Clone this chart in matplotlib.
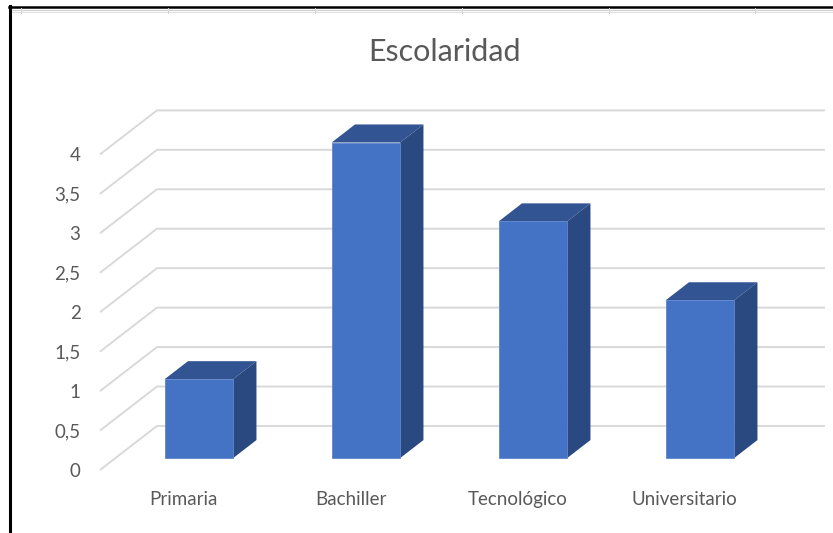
import numpy as np
import matplotlib
matplotlib.use('Agg')
import matplotlib.pyplot as plt
from matplotlib.lines import Line2D

categories = ['Primaria', 'Bachiller', 'Tecnológico', 'Universitario']
values = [1, 4, 3, 2]
yticks = [0, 0.5, 1, 1.5, 2, 2.5, 3, 3.5, 4]
ytick_labels = ['0', '0,5', '1', '1,5', '2', '2,5', '3', '3,5', '4']

# 3d look: depth offset of back wall (x in category units, y in value units)
DX, DY = 0.341, 0.558
D0, D1 = 0.27, 0.68   # bar front / back depth
BAR_W = 0.41

front_col = '#4472C4'
top_col = '#325493'
side_col = '#2A4980'
grid_col = '#d9d9d9'
text_col = '#595959'

plt.rcParams['font.family'] = ['Lato', 'DejaVu Sans']

W, H = 833, 533
fig = plt.figure(figsize=(W / 100, H / 100), dpi=100)

ax = fig.add_axes([100 / W, (H - 470) / H, 668 / W, 315.6 / H])
ax.set_xlim(-0.5, len(categories) - 0.5)
ax.set_ylim(0, 4)
for s in ax.spines.values():
    s.set_visible(False)

# gridlines: front-left diagonal + back wall line
x0, x1 = -0.5, len(categories) - 0.5
for v in yticks:
    ax.plot([x0, x0 + DX, x1 + DX], [v, v + DY, v + DY], color=grid_col,
            lw=1.4, zorder=1, clip_on=False, solid_capstyle='butt')

xs = np.arange(len(categories))
ax.bar(xs + D0 * DX, values, width=BAR_W, bottom=D0 * DY, color=front_col,
       edgecolor='#5f86cc', linewidth=0.6, zorder=4, clip_on=False)

ddx, ddy = (D1 - D0) * DX, (D1 - D0) * DY
for x, v in zip(xs, values):
    left = x + D0 * DX - BAR_W / 2
    right = left + BAR_W
    bot = D0 * DY
    top = bot + v
    # top face
    ax.fill([left, right, right + ddx, left + ddx], [top, top, top + ddy, top + ddy],
            color=top_col, zorder=3, clip_on=False, lw=0)
    # side face
    ax.fill([right, right + ddx, right + ddx, right], [bot, bot + ddy, top + ddy, top],
            color=side_col, zorder=3, clip_on=False, lw=0)

ax.set_yticks(yticks)
ax.set_yticklabels(ytick_labels)
ax.set_xticks(xs)
ax.set_xticklabels(categories)
ax.tick_params(axis='y', length=0, pad=14, labelsize=13.5, labelcolor=text_col)
ax.tick_params(axis='x', length=0, pad=15, labelsize=13.5, labelcolor=text_col)

fig.text(445 / W, 1 - 52 / H, 'Escolaridad', ha='center', va='center',
         fontsize=22, color=text_col)

# document frame around the chart
fig.add_artist(Line2D([10 / W, 10 / W], [0, 1 - 6 / H], color='black', lw=2.2))
fig.add_artist(Line2D([9 / W, 1], [1 - 6.5 / H, 1 - 6.5 / H], color='black', lw=1.8))
fig.add_artist(Line2D([12 / W, 1], [1 - 9.5 / H, 1 - 9.5 / H], color='#cfcfcf', lw=0.8))
fig.add_artist(Line2D([12 / W, 1], [1 - 12 / H, 1 - 12 / H], color='#e0e0e0', lw=0.8))
for px in [21, 168, 315, 462, 609, 755]:
    fig.add_artist(Line2D([px / W, px / W], [1 - 12.5 / H, 1 - 7.5 / H],
                          color='#d5d5d5', lw=0.7))

fig.savefig('out.png', dpi=100)
